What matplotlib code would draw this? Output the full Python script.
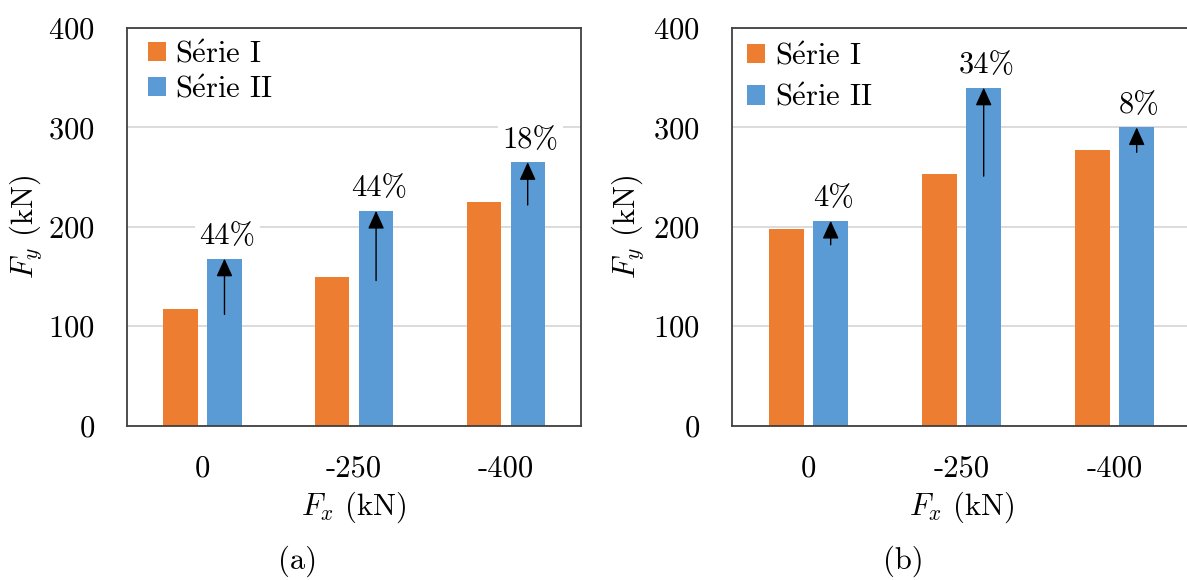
import numpy as np
import matplotlib
matplotlib.use("Agg")
import matplotlib.pyplot as plt

plt.rcParams["font.family"] = ["cmr10", "DejaVu Serif"]
plt.rcParams["mathtext.fontset"] = "cm"
plt.rcParams["axes.formatter.use_mathtext"] = True

# donnees
categories = ["0", "-250", "-400"]
serie1_a = [117, 150, 225]
serie2_a = [168, 216, 265]
pct_a = ["44%", "44%", "18%"]
arrow_from_a = [112, 146, 222]

serie1_b = [198, 253, 277]
serie2_b = [206, 340, 300]
pct_b = ["4%", "34%", "8%"]
arrow_from_b = [182, 251, 275]

c1 = "#ED7D31"
c2 = "#5B9BD5"
fs = 22

fig = plt.figure(figsize=(11.87, 5.80), dpi=100)
axa = fig.add_axes([0.10674, 0.26603, 0.38315, 0.68569])
axb = fig.add_axes([0.61668, 0.26603, 0.38669, 0.68569])


def panel(ax, s1, s2, pct, arr, leg_anchor, leg_sp, ylpad):
    x = np.arange(len(categories))
    w = 0.225
    off = 0.145
    b1 = ax.bar(x - off, s1, w, color=c1, zorder=2)
    b2 = ax.bar(x + off, s2, w, color=c2, zorder=2)
    ax.set_xlim(-0.5, len(categories) - 0.5)
    ax.set_ylim(0, 400)
    ax.set_yticks([0, 100, 200, 300, 400])
    ax.set_xticks(x)
    ax.set_xticklabels(categories)
    ax.tick_params(length=0, labelsize=fs)
    ax.tick_params(axis="y", pad=23)
    ax.tick_params(axis="x", pad=21)
    ax.yaxis.grid(True, color="#D9D9D9", lw=1.3, zorder=0)
    ax.set_axisbelow(True)
    for sp in ax.spines.values():
        sp.set_color("#404040")
        sp.set_linewidth(1.3)
    ax.set_ylabel(r"$F_y$ (kN)", fontsize=fs, labelpad=ylpad)
    ax.set_xlabel(r"$F_x$ (kN)", fontsize=fs, labelpad=5)
    for i in range(len(x)):
        ax.annotate("", xy=(x[i] + off, s2[i]), xytext=(x[i] + off, arr[i]),
                    arrowprops=dict(arrowstyle="-|>,head_length=0.55,head_width=0.25",
                                    mutation_scale=20, color="black", lw=1.0,
                                    shrinkA=0, shrinkB=0), zorder=4)
        ax.annotate(pct[i], xy=(x[i] + off, s2[i]), xytext=(2, 16),
                    textcoords="offset points", ha="center", va="center",
                    fontsize=fs, zorder=5,
                    bbox=dict(boxstyle="square,pad=0.15", fc="white", ec="none"))
    ax.legend([b1, b2], [r"S$\mathrm{\acute{e}}$rie I", r"S$\mathrm{\acute{e}}$rie II"],
              loc="upper left", bbox_to_anchor=leg_anchor, frameon=False,
              fontsize=fs, handlelength=0.6, handleheight=0.6,
              handletextpad=0.3, labelspacing=leg_sp, borderpad=0,
              borderaxespad=0)


panel(axa, serie1_a, serie2_a, pct_a, arrow_from_a, (0.046, 0.969), 0.25, 3)
panel(axb, serie1_b, serie2_b, pct_b, arrow_from_b, (0.033, 0.964), 0.46, 5)

fig.text(0.2510, 0.0328, "(a)", fontsize=fs, ha="center", va="center")
fig.text(0.761, 0.0328, "(b)", fontsize=fs, ha="center", va="center")

fig.savefig("out.png", dpi=100)
